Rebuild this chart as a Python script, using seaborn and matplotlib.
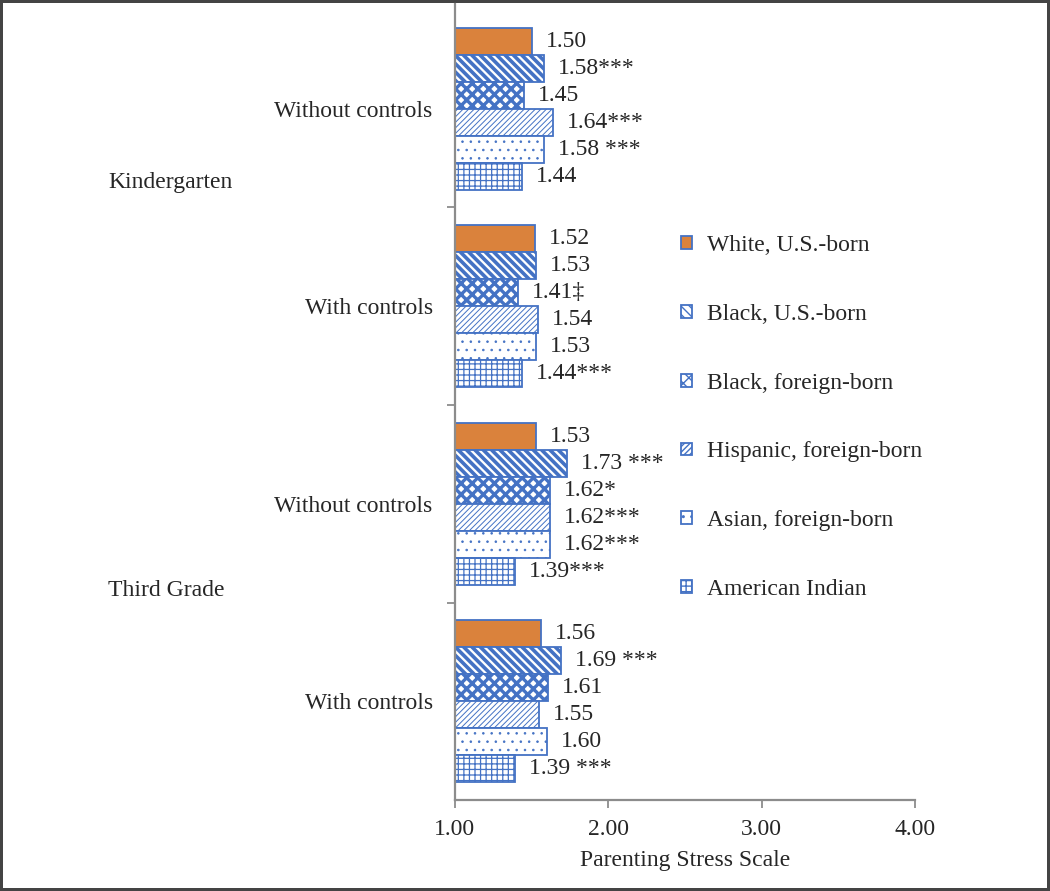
import pandas as pd
import seaborn as sns
import matplotlib.pyplot as plt
import matplotlib.transforms as mtransforms

# --- data ---
rows = ["K_without", "K_with", "G3_without", "G3_with"]
row_labels = ["Without controls", "With controls", "Without controls", "With controls"]
grades = ["Kindergarten", "Third Grade"]

groups = ["White, U.S.-born", "Black, U.S.-born", "Black, foreign-born",
          "Hispanic, foreign-born", "Asian, foreign-born", "American Indian"]

white_us = [1.50, 1.52, 1.53, 1.56]
black_us = [1.58, 1.53, 1.73, 1.69]
black_fb = [1.45, 1.41, 1.62, 1.61]
hisp_fb = [1.64, 1.54, 1.62, 1.55]
asian_fb = [1.58, 1.53, 1.62, 1.60]
am_indian = [1.44, 1.44, 1.39, 1.39]

white_us_lbl = ["1.50", "1.52", "1.53", "1.56"]
black_us_lbl = ["1.58***", "1.53", "1.73 ***", "1.69 ***"]
black_fb_lbl = ["1.45", "1.41\u2021", "1.62*", "1.61"]
hisp_fb_lbl = ["1.64***", "1.54", "1.62***", "1.55"]
asian_fb_lbl = ["1.58 ***", "1.53", "1.62***", "1.60"]
am_indian_lbl = ["1.44", "1.44***", "1.39***", "1.39 ***"]

values = [white_us, black_us, black_fb, hisp_fb, asian_fb, am_indian]
labels = [white_us_lbl, black_us_lbl, black_fb_lbl, hisp_fb_lbl, asian_fb_lbl, am_indian_lbl]

df = pd.DataFrame(
    [(r, g, v) for g, vals in zip(groups, values) for r, v in zip(rows, vals)],
    columns=["row", "group", "value"],
)

# --- style ---
sns.set_style("white")
plt.rcParams["font.family"] = ["Liberation Serif", "DejaVu Serif"]
FS = 17
plt.rcParams["font.size"] = FS

BLUE = "#4472C4"
ORANGE = "#DA823C"
GRAY = "#8C8C8C"

fills = [ORANGE, "white", "white", "white", "white", "white"]
hatches = [None, "\\\\\\\\", "xxx", "//////", "..", "+++"]
hatch_lw = [1.0, 2.6, 2.4, 0.7, 0.6, 0.9]

fig = plt.figure(figsize=(10.5, 8.91), dpi=100)
ax = fig.add_axes([0.4333, 0.1021, 0.438, 0.8934])

sns.barplot(data=df, x="value", y="row", hue="group", order=rows, hue_order=groups,
            orient="h", width=0.82, palette=fills, edgecolor=BLUE, linewidth=1.3,
            saturation=1, legend=False, ax=ax)

for cont, hatch, hlw, lbls in zip(ax.containers, hatches, hatch_lw, labels):
    for p in cont.patches:
        p.set_edgecolor(BLUE)
        if hatch:
            p.set_hatch(hatch)
        if hasattr(p, "set_hatch_linewidth"):
            p.set_hatch_linewidth(hlw)
    ax.bar_label(cont, labels=lbls, padding=10, fontsize=FS)

ax.set_xlim(1, 4)
ax.set_ylim(3.5, -0.53)
ax.set_xticks([1, 2, 3, 4])
ax.set_xticklabels(["1.00", "2.00", "3.00", "4.00"])
ax.set_xlabel("Parenting Stress Scale", fontsize=FS, labelpad=7)
ax.set_ylabel("")
ax.set_yticks(range(len(rows)))
ax.set_yticklabels(row_labels)
ax.set_yticks([0.5, 1.5, 2.5], minor=True)

ax.tick_params(axis="y", which="major", length=0, pad=16, labelsize=FS)
ax.tick_params(axis="y", which="minor", length=6, width=1.3, color=GRAY, direction="out", left=True)
ax.tick_params(axis="x", which="major", length=6, width=1.3, color=GRAY, direction="out",
               bottom=True, labelsize=FS, pad=8)

sns.despine(ax=ax, top=True, right=True)
for side in ["left", "bottom"]:
    ax.spines[side].set_color(GRAY)
    ax.spines[side].set_linewidth(1.6)

# grade labels
trans = mtransforms.blended_transform_factory(fig.transFigure, ax.transData)
ax.text(0.103, 0.375, grades[0], transform=trans, ha="left", va="center", fontsize=FS)
ax.text(0.103, 2.44, grades[1], transform=trans, ha="left", va="center", fontsize=FS)

ax.legend(ax.containers, groups, loc="upper left", bbox_to_anchor=(0.649, 0.736),
          bbox_transform=fig.transFigure, frameon=False, fontsize=FS,
          handlelength=0.45, handleheight=0.45, handletextpad=0.65,
          labelspacing=2.02, borderpad=0, borderaxespad=0)

fig.patch.set_edgecolor("#444444")
fig.patch.set_linewidth(3)

fig.savefig("out.png", dpi=100)
